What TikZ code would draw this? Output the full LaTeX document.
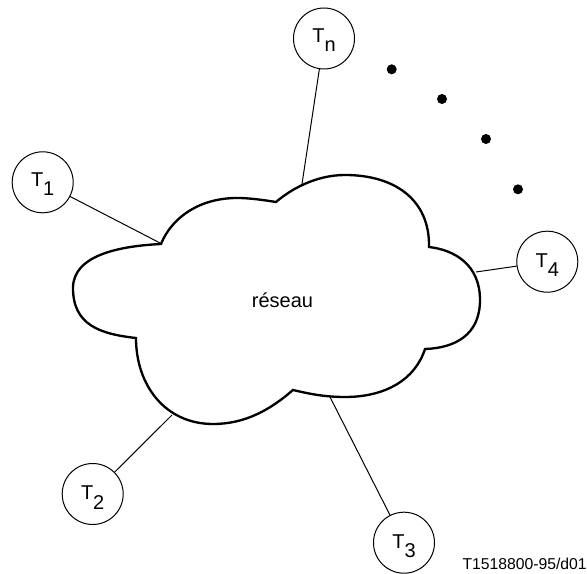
\documentclass[tikz,border=0pt]{standalone}
\usepackage{fontspec}
\setmainfont{Liberation Sans}
\newcommand{\termlabel}[2]{\raisebox{#2}{T\raisebox{-6.9pt}{#1}}}
\tikzset{
  x=0.75pt,y=-0.75pt,
  terminal/.style={circle,draw=black,line width=0.75pt,fill=white,minimum size=45.75pt,inner sep=0pt,font=\fontsize{15pt}{18pt}\selectfont,text height=11pt,text depth=3pt},
  cloudline/.style={draw=black,line width=1.75pt,line join=miter,fill=white},
  link/.style={draw=black,line width=0.75pt},
  dotmark/.style={circle,fill=black,inner sep=0pt,minimum size=7.5pt},
  plain/.style={inner sep=0pt,font=\fontsize{15pt}{18pt}\selectfont}
}
\begin{document}
\begin{tikzpicture}
\useasboundingbox (0,0) rectangle (587,574);
\coordinate (c1) at (161,243.5);
\coordinate (c2) at (172,415);
\coordinate (c3) at (330,397);
\coordinate (c4) at (476,272);
\coordinate (cn) at (302,184);
\node[terminal] (t1) at (42.7,182.3) {\termlabel{1}{1.2pt}};
\node[terminal] (t2) at (92.7,494) {\termlabel{2}{-0.5pt}};
\node[terminal] (t3) at (404,542.7) {\termlabel{3}{0pt}};
\node[terminal] (t4) at (547.3,261.7) {\termlabel{4}{0pt}};
\node[terminal] (tn) at (324,38.5) {\termlabel{n}{0.8pt}};
\draw[link] (t1) -- (c1);
\draw[link] (t2) -- (c2);
\draw[link] (t3) -- (c3);
\draw[link] (t4) -- (c4);
\draw[link] (tn) -- (cn);
\path[cloudline] (161,244)
  .. controls (172,217) and (200,198) .. (237,198)
  .. controls (250,198) and (263,200) .. (276,202)
  .. controls (290,190) and (315,175) .. (345,175)
  .. controls (395,175) and (430,200) .. (429,247)
  .. controls (455,250) and (480,265) .. (480,300)
  .. controls (480,335) and (455,348) .. (425,349)
  .. controls (415,380) and (385,397) .. (345,397)
  .. controls (325,397) and (310,394) .. (293,390)
  .. controls (270,410) and (245,424) .. (213,424)
  .. controls (165,424) and (136,385) .. (136,338)
  .. controls (100,334) and (73,325) .. (73,288)
  .. controls (73,255) and (120,246) .. (161,244) -- cycle;
\node[plain,anchor=base] (net) at (282.5,308) {réseau};
\node[dotmark] (d1) at (391.7,69.3) {};
\node[dotmark] (d2) at (442,99) {};
\node[dotmark] (d3) at (486,139) {};
\node[dotmark] (d4) at (518,189.3) {};
\node[inner sep=0pt,anchor=base east,font=\fontsize{11.8pt}{14pt}\selectfont] (ref) at (587,570) {T1518800-95/d01};
\end{tikzpicture}
\end{document}
